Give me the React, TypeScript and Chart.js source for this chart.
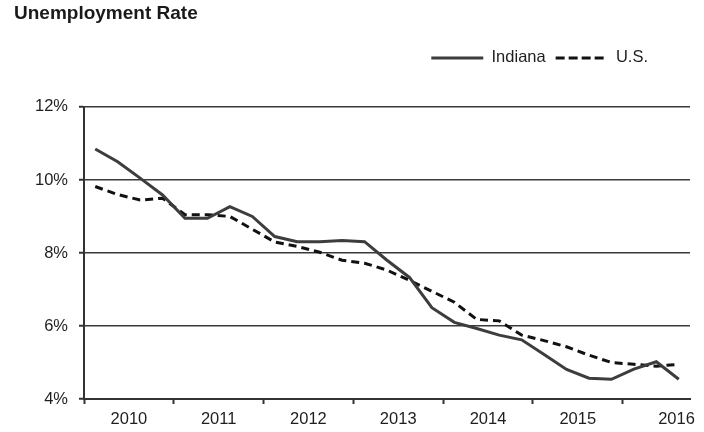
import React, { useEffect, useRef } from 'react';
import { Chart, registerables } from 'chart.js';

Chart.register(...registerables);
Chart.defaults.font.family = 'Arial, "Liberation Sans", sans-serif';
Chart.defaults.color = '#1e1e1e';

// Quarterly observations, 2010 Q1 .. 2016 Q3
const quarters = [
  '2010 Q1', '2010 Q2', '2010 Q3', '2010 Q4',
  '2011 Q1', '2011 Q2', '2011 Q3', '2011 Q4',
  '2012 Q1', '2012 Q2', '2012 Q3', '2012 Q4',
  '2013 Q1', '2013 Q2', '2013 Q3', '2013 Q4',
  '2014 Q1', '2014 Q2', '2014 Q3', '2014 Q4',
  '2015 Q1', '2015 Q2', '2015 Q3', '2015 Q4',
  '2016 Q1', '2016 Q2', '2016 Q3',
];

const indiana = [
  10.85, 10.5, 10.05, 9.59,
  8.95, 8.95, 9.27, 9.0,
  8.45, 8.31, 8.31, 8.34,
  8.31, 7.8, 7.33, 6.5,
  6.1, 5.93, 5.75, 5.62,
  5.22, 4.81, 4.57, 4.54,
  4.82, 5.02, 4.54,
];

const us = [
  9.82, 9.6, 9.45, 9.5,
  9.05, 9.05, 9.0, 8.65,
  8.3, 8.18, 8.02, 7.8,
  7.72, 7.53, 7.25, 6.95,
  6.65, 6.18, 6.14, 5.75,
  5.6, 5.43, 5.2, 5.0,
  4.95, 4.9, 4.95,
];

const yearLabels = ['2010', '2011', '2012', '2013', '2014', '2015', '2016'];
const yearBoundaries = [0, 4, 8, 12, 16, 20, 24];
const yearLabelAt = [2, 6, 10, 14, 18, 22, 26.4];

const seriesNames = ['Indiana', 'U.S.'];

export default function App() {
  const ref = useRef<HTMLCanvasElement | null>(null);

  useEffect(() => {
    if (!ref.current) return;
    const toPoints = (vals: number[]) => vals.map((v, i) => ({ x: i + 0.5, y: v, q: quarters[i] }));

    const legendShift = {
      id: 'legendShift',
      afterLayout(chart: any) {
        if (chart.legend) chart.legend.right -= 32;
      },
    };

    const baseGenerate = (Chart.defaults.plugins.legend.labels as any).generateLabels;

    const chart = new Chart(ref.current, {
      type: 'line',
      data: {
        datasets: [
          {
            label: seriesNames[0],
            data: toPoints(indiana),
            borderColor: '#3d3d3d',
            backgroundColor: '#3d3d3d',
            borderWidth: 3,
            pointRadius: 0,
            pointStyle: 'line',
            tension: 0,
            fill: false,
          },
          {
            label: seriesNames[1],
            data: toPoints(us),
            borderColor: '#111111',
            backgroundColor: '#111111',
            borderWidth: 3,
            borderDash: [8, 5],
            pointRadius: 0,
            pointStyle: 'line',
            tension: 0,
            fill: false,
          },
        ],
      },
      plugins: [legendShift],
      options: {
        animation: false,
        responsive: true,
        maintainAspectRatio: false,
        layout: { padding: { left: 14, right: 14, top: 0, bottom: 0 } },
        plugins: {
          title: {
            display: true,
            text: 'Unemployment Rate',
            align: 'start',
            color: '#1a1a1a',
            font: { size: 19, weight: 'bold', lineHeight: 1.2 },
            padding: { top: 2.4, bottom: 14.5 },
          },
          legend: {
            display: true,
            position: 'top',
            align: 'end',
            labels: {
              usePointStyle: true,
              pointStyleWidth: 52,
              padding: 10,
              font: { size: 16.5 },
              color: '#1e1e1e',
              generateLabels: (c: any) =>
                baseGenerate(c).map((item: any) => {
                  const ds = c.data.datasets[item.datasetIndex];
                  return { ...item, lineDash: ds.borderDash ? [9, 4] : [], lineWidth: ds.borderWidth };
                }),
            },
          },
          tooltip: { enabled: false },
        },
        scales: {
          x: {
            type: 'linear',
            position: 'bottom',
            min: 0,
            max: quarters.length,
            afterBuildTicks: (s: any) => {
              s.ticks = [...yearBoundaries, ...yearLabelAt]
                .sort((a, b) => a - b)
                .map((v) => ({ value: v }));
            },
            afterFit: (s: any) => {
              s.height = 33;
            },
            ticks: {
              autoSkip: false,
              maxRotation: 0,
              padding: 6,
              font: { size: 16.5 },
              color: '#1e1e1e',
              callback: (value: any) => {
                const i = yearLabelAt.indexOf(Number(value));
                return i >= 0 ? yearLabels[i] : '';
              },
            },
            grid: {
              drawOnChartArea: false,
              drawTicks: true,
              tickLength: 5,
              tickWidth: 2,
              tickColor: (ctx: any) =>
                ctx.tick && yearLabelAt.includes(ctx.tick.value) ? 'rgba(0,0,0,0)' : '#333333',
            },
            border: { display: true, color: '#333333', width: 2 },
          },
          xTop: {
            type: 'linear',
            position: 'top',
            min: 0,
            max: 1,
            display: true,
            afterFit: (s: any) => {
              s.height = 30.75;
            },
            ticks: { display: false },
            grid: { display: false, drawTicks: false },
            border: { display: false },
          },
          y: {
            type: 'linear',
            min: 4,
            max: 12,
            afterFit: (s: any) => {
              s.width = 70;
            },
            ticks: {
              stepSize: 2,
              padding: 11,
              font: { size: 16.5 },
              color: '#1e1e1e',
              callback: (v: any) => `${v}%`,
            },
            grid: {
              color: '#3a3a3a',
              lineWidth: 1.5,
              tickLength: 5,
              tickColor: '#333333',
              tickWidth: 2,
            },
            border: { display: true, color: '#333333', width: 2 },
          },
        },
      },
    } as any);

    return () => chart.destroy();
  }, []);

  return (
    <div style={{ position: 'fixed', left: 0, top: 0, width: 704, height: 432, background: '#ffffff' }}>
      <canvas ref={ref} />
    </div>
  );
}
